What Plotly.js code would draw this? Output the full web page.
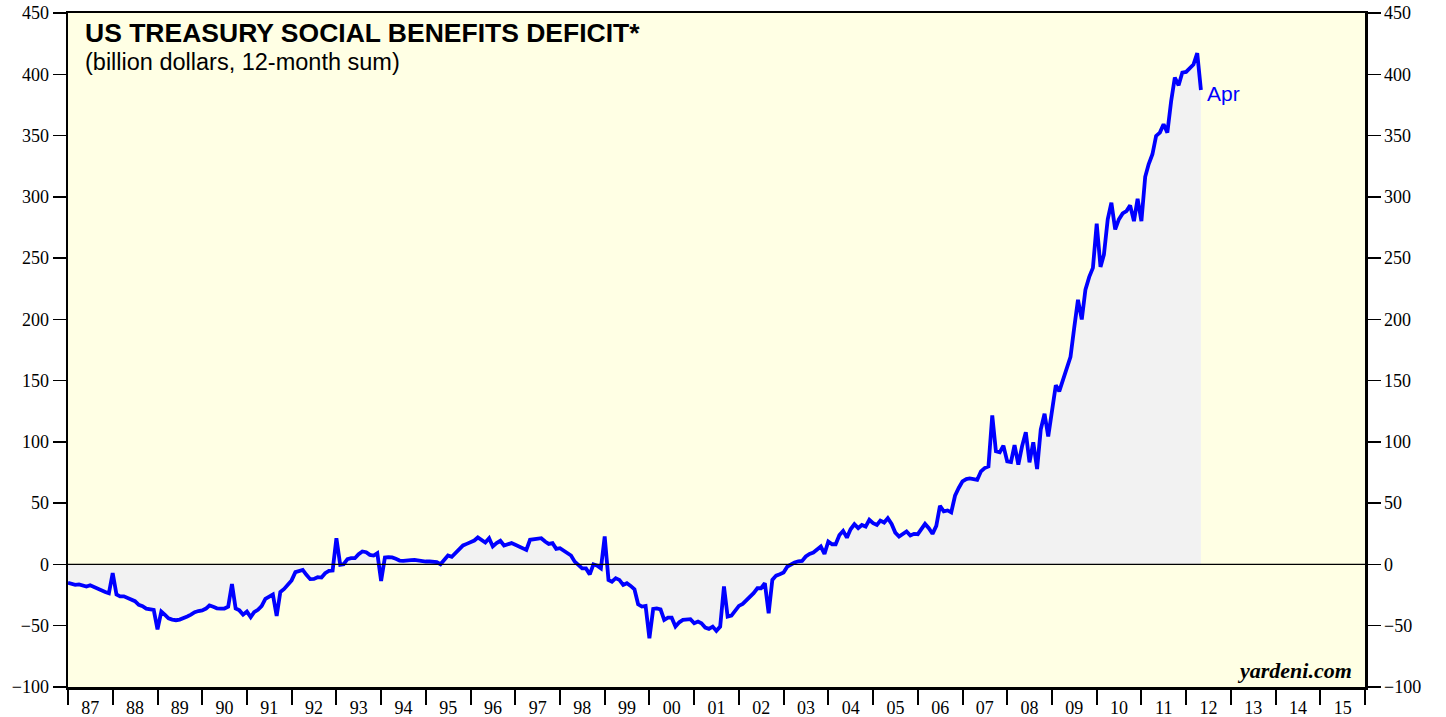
<!DOCTYPE html>
<html><head><meta charset="utf-8">
<script src="https://cdn.plot.ly/plotly-3.0.1.min.js"></script>
<style>html,body{margin:0;padding:0;background:#fff}#chart{width:1446px;height:717px}</style>
</head><body><div id="chart"></div>
<script>
// Monthly 12-month-sum values (billion dollars), first value plotted at start of 1987
const startYear = 1987;
const v1987 = [-15, -16, -16.7, -16.3, -17, -18, -17, -18.5, -20, -21.5, -22.5, -23.5];
const v1988 = [-7, -24.5, -26, -26, -27.5, -29, -30, -33, -34, -36, -36.5, -37];
const v1989 = [-53, -38.5, -41, -44, -45, -45.5, -45, -44, -42.5, -41, -39, -38];
const v1990 = [-37.5, -36, -33.5, -34.5, -35.8, -36, -36, -34.5, -16, -36, -37.5, -41];
const v1991 = [-38.5, -43, -39, -37, -34, -28, -26, -24.5, -42, -22.5, -20, -16.5];
const v1992 = [-13, -6.3, -5.3, -4.4, -8.5, -12, -11.8, -10.4, -10.7, -7.1, -5.3, -5];
const v1993 = [21.4, -0.3, 0.2, 4.3, 5.1, 5.1, 8.4, 10.6, 10, 7.8, 7.3, 9.2];
const v1994 = [-13.4, 5.7, 5.9, 5.7, 4.6, 3.2, 3, 3, 3.5, 3.8, 3.2, 2.7];
const v1995 = [2.4, 2.4, 2.4, 1.9, 0.2, 3.8, 7.3, 6.2, 9.2, 12.7, 15.5, 16.8];
const v1996 = [17.9, 19.5, 22, 20.1, 17.9, 21.4, 14.7, 17.4, 19.3, 15.5, 16.6, 17.4];
const v1997 = [16, 14.7, 13.3, 11.9, 20.1, 20.4, 20.9, 21.4, 18.7, 16.8, 17.4, 12.7];
const v1998 = [13.3, 11.1, 9.2, 7.3, 2.3, -1, -3.2, -3.2, -8.1, 0.1, -1, -3.2];
const v1999 = [22.8, -12.6, -14, -11.2, -12.6, -16.7, -15.3, -17.5, -20.2, -32.5, -34.4, -33.9];
const v2000 = [-60.3, -36.3, -35.8, -36.6, -45.3, -43.4, -43.4, -50.7, -47.2, -45.3, -45.3, -44.7];
const v2001 = [-48, -46.6, -48, -51.5, -52.6, -50.7, -54.2, -50.7, -18, -42.6, -41.8, -38];
const v2002 = [-33.8, -32.2, -29.5, -26.7, -23.4, -19.4, -19.4, -15.3, -39.9, -12.6, -9.1, -8];
const v2003 = [-6.6, -1.7, 0.2, 1.6, 2.6, 2.9, 6.5, 8.6, 9.7, 11.9, 14.6, 8.6];
const v2004 = [18.7, 16.5, 16.5, 24.1, 27.4, 21.9, 28.7, 32.8, 29.6, 32.2, 30.9, 36.4];
const v2005 = [33.7, 32.2, 35.8, 34.2, 37.7, 33.1, 26, 22.8, 24.7, 26.9, 23.6, 25];
const v2006 = [24.7, 28.8, 33.1, 29.6, 25, 31.5, 47.9, 43.3, 44.1, 42.5, 56.1, 62.4];
const v2007 = [67.8, 69.7, 70.2, 69.7, 69.1, 76, 78.7, 80, 121.7, 92.3, 91.5, 97];
const v2008 = [84.1, 83.6, 97.3, 81.4, 96.4, 107.8, 83.3, 99.7, 77.9, 110, 123, 104.5];
const v2009 = [125, 146.2, 141.3, 150.8, 160.4, 169.4, 193, 216, 199.9, 224.3, 234.7, 242];
const v2010 = [278, 242.8, 252.9, 281.6, 295.2, 273.4, 281.6, 286.5, 288.4, 293, 280.2, 298.4];
const v2011 = [280.2, 316.4, 326.5, 334.7, 349.7, 352.4, 359.2, 352.4, 378.2, 397.3, 391, 401.4];
const v2012 = [401.9, 404.6, 407.9, 417.2, 387.2];

const values = [].concat(v1987, v1988, v1989, v1990, v1991, v1992, v1993, v1994, v1995,
  v1996, v1997, v1998, v1999, v2000, v2001, v2002, v2003, v2004, v2005, v2006, v2007,
  v2008, v2009, v2010, v2011, v2012);
const dates = values.map((_, i) => {
  const y = startYear + Math.floor(i / 12);
  const m = (i % 12) + 1;
  return y + '-' + String(m).padStart(2, '0') + '-01';
});
const lastLabel = 'Apr';
const xStart = '1987-01-01', xEnd = '2016-01-01';
const yMin = -100, yMax = 450;

const serif = "'Liberation Serif', 'Times New Roman', Times, serif";
const sans = "'Liberation Sans', Arial, Helvetica, sans-serif";
const tickFont = {family: serif, size: 18, color: '#000'};

const traces = [
  {x: dates, y: values, type: 'scatter', mode: 'lines', fill: 'tozeroy',
   fillcolor: '#f2f2f2', line: {color: '#0000ff', width: 3.8}, hoverinfo: 'x+y', showlegend: false},
  {x: dates, y: values, type: 'scatter', mode: 'lines', yaxis: 'y2',
   line: {width: 0, color: 'rgba(0,0,0,0)'}, hoverinfo: 'skip', showlegend: false}
];

const layout = {
  width: 1446, height: 717,
  margin: {l: 68, r: 81, t: 13, b: 30, pad: 0},
  paper_bgcolor: '#ffffff',
  plot_bgcolor: '#ffffe4',
  showlegend: false,
  xaxis: {
    type: 'date', range: [xStart, xEnd], tick0: xStart, dtick: 'M12',
    tickformat: '%y', ticklabelmode: 'period',
    ticks: 'outside', ticklen: 15, tickwidth: 2, tickcolor: '#000',
    showline: true, linewidth: 2.5, linecolor: '#000', mirror: true,
    showgrid: false, zeroline: false, tickfont: tickFont, ticklabelstandoff: -12
  },
  yaxis: {
    range: [yMin, yMax], dtick: 50, tick0: 0,
    ticks: 'outside', ticklen: 13, tickwidth: 1.5, tickcolor: '#000',
    showline: true, linewidth: 2.5, linecolor: '#000',
    showgrid: false, zeroline: false, tickfont: tickFont
  },
  yaxis2: {
    range: [yMin, yMax], dtick: 50, tick0: 0, overlaying: 'y', side: 'right',
    ticks: 'outside', ticklen: 13, tickwidth: 1.5, tickcolor: '#000',
    showline: true, linewidth: 2.5, linecolor: '#000',
    showgrid: false, zeroline: false, tickfont: tickFont
  },
  shapes: [
    {type: 'line', xref: 'paper', x0: 0, x1: 1, yref: 'y', y0: 0, y1: 0,
     line: {color: '#000', width: 1.2}, layer: 'above'}
  ],
  annotations: [
    {text: '<b>US TREASURY SOCIAL BENEFITS DEFICIT*</b>', xref: 'paper', yref: 'paper',
     x: 0.0115, y: 0.995, xanchor: 'left', yanchor: 'top', showarrow: false,
     font: {family: sans, size: 26.5, color: '#000'}},
    {text: '(billion dollars, 12-month sum)', xref: 'paper', yref: 'paper',
     x: 0.0115, y: 0.95, xanchor: 'left', yanchor: 'top', showarrow: false,
     font: {family: sans, size: 23.5, color: '#000'}},
    {text: lastLabel, x: dates[dates.length - 1], y: values[values.length - 1],
     xref: 'x', yref: 'y', xanchor: 'left', yanchor: 'middle', xshift: 4, yshift: -4, showarrow: false,
     font: {family: sans, size: 21, color: '#0000ff'}},
    {text: '<b><i>yardeni.com</i></b>', xref: 'paper', yref: 'paper',
     x: 0.9915, y: 0.024, xanchor: 'right', yanchor: 'middle', showarrow: false,
     font: {family: serif, size: 22, color: '#000'}}
  ]
};

Plotly.newPlot('chart', traces, layout, {displayModeBar: false, staticPlot: true});
</script>
</body></html>
